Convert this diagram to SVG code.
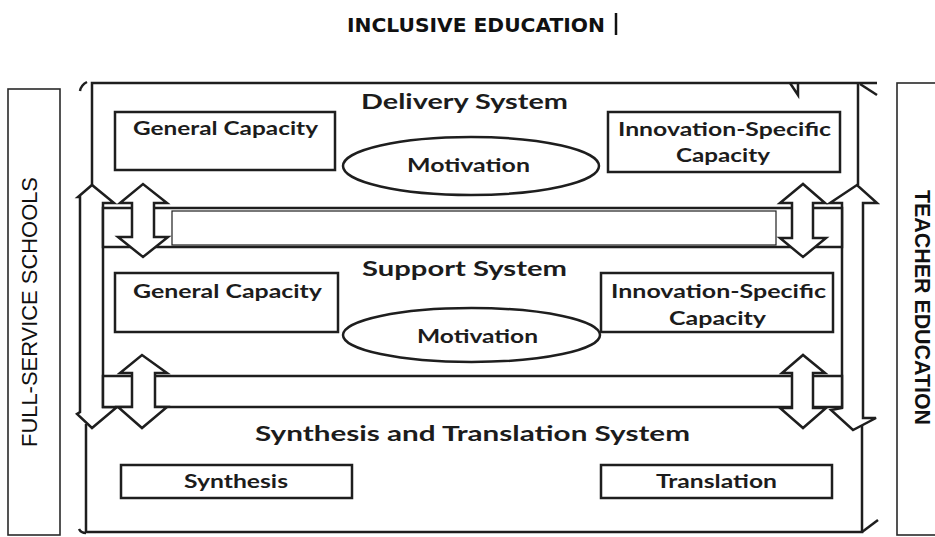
<svg xmlns="http://www.w3.org/2000/svg" width="935" height="537" viewBox="0 0 935 537">
<style>
.ln{fill:none;stroke:#1e1e1e;stroke-width:2.5;stroke-linejoin:miter}
.wf{fill:#fff;stroke:#1e1e1e;stroke-width:2.5;stroke-linejoin:miter}
.thin{fill:#fff;stroke:#1e1e1e;stroke-width:1.2}
.side{fill:#fff;stroke:#2a2a2a;stroke-width:1.6}
.t{font-family:Lato,"Open Sans",sans-serif;font-weight:bold;fill:#1c1c1c;text-anchor:middle}
.h{font-size:21px}
.b{font-size:18px}
.v{font-family:"Liberation Sans",Arial,sans-serif;font-size:22px;fill:#111;text-anchor:middle}
</style>
<rect width="935" height="537" fill="#fff"/>
<g id="title">
<text x="476" y="32" font-family="'DejaVu Sans',Verdana,sans-serif" font-weight="bold" font-size="20" fill="#111" textLength="258" lengthAdjust="spacingAndGlyphs" text-anchor="middle">INCLUSIVE EDUCATION</text>
<line x1="616" y1="13" x2="616" y2="35" stroke="#111" stroke-width="2.5"/>
</g>
<g id="full-service-schools">
<rect class="side" x="8" y="89" width="52" height="446"/>
<text class="v" transform="translate(37,312) rotate(-90)" textLength="270" lengthAdjust="spacingAndGlyphs">FULL-SERVICE SCHOOLS</text>
</g>
<g id="teacher-education">
<rect class="side" x="897" y="83" width="50" height="452"/>
<text class="v" font-weight="bold" transform="translate(915,307.5) rotate(90)" textLength="235" lengthAdjust="spacingAndGlyphs">TEACHER EDUCATION</text>
</g>
<g id="frame">
<path class="ln" d="M92,185 V83 H877"/>
<path class="ln" d="M858,83 V185"/>
<path class="ln" d="M860,84 L877,95"/>
<path class="ln" d="M790,83 L798,95 V83"/>
<path class="ln" d="M80,91 Q81,85 87,82"/>
<path class="ln" d="M86,424 V532 H862 V425"/>
<path class="ln" d="M862,532 L878,520"/>
<path class="ln" d="M79,529 Q81,533 86,533"/>
</g>
<g id="connectors">
<path id="big-left" class="wf" d="M103,407 L103,203 L114,203 L92,185 L78,197 L80,197 L80,412 L77,414 L92,428 L117,407 Z"/>
<path id="big-right" class="wf" d="M842,408 L842,203 L830,203 L857,185 L877,203 L863,203 L863,418 L876,418 L853,430 L831,410 Z"/>
<rect id="band1" class="wf" x="103" y="208" width="739" height="39"/>
<rect class="thin" x="172" y="211" width="604" height="34"/>
<rect id="band2" class="wf" x="103" y="376" width="739" height="31"/>
<path class="wf" d="M132,203 L120,203 L143,184 L167,203 L154,203 L154,237 L168,237 L143,257 L118,237 L132,237 Z"/>
<path class="wf" d="M792,203 L780,203 L803,184 L825,203 L813,203 L813,238 L826,238 L803,257 L780,238 L792,238 Z"/>
<path class="wf" d="M132,373 L120,373 L142,355 L167,373 L155,373 L155,407 L167,407 L142,428 L118,407 L132,407 Z"/>
<path class="wf" d="M792,373 L782,373 L803,355 L825,373 L813,373 L813,408 L826,408 L803,428 L780,408 L792,408 Z"/>
</g>
<g id="delivery-system">
<text class="t h" x="464.5" y="109" textLength="207" lengthAdjust="spacingAndGlyphs">Delivery System</text>
</g>
<g id="delivery-general-capacity">
<rect class="wf" x="115" y="112" width="220" height="58"/>
<text class="t b" x="225.5" y="135" textLength="185" lengthAdjust="spacingAndGlyphs">General Capacity</text>
</g>
<g id="delivery-innovation-capacity">
<rect class="wf" x="608" y="112" width="232" height="60"/>
<text class="t b" x="724.5" y="136" textLength="213" lengthAdjust="spacingAndGlyphs">Innovation-Specific</text>
<text class="t b" x="723" y="162" textLength="94" lengthAdjust="spacingAndGlyphs">Capacity</text>
</g>
<g id="delivery-motivation">
<ellipse class="wf" cx="471" cy="166" rx="128" ry="29"/>
<text class="t b" x="468.5" y="172" textLength="123" lengthAdjust="spacingAndGlyphs">Motivation</text>
</g>
<g id="support-system">
<text class="t h" x="464.5" y="276" textLength="205" lengthAdjust="spacingAndGlyphs">Support System</text>
</g>
<g id="support-general-capacity">
<rect class="wf" x="115" y="273" width="223" height="59"/>
<text class="t b" x="227.5" y="298" textLength="189" lengthAdjust="spacingAndGlyphs">General Capacity</text>
</g>
<g id="support-innovation-capacity">
<rect class="wf" x="601" y="273" width="232" height="59"/>
<text class="t b" x="718.5" y="298" textLength="215" lengthAdjust="spacingAndGlyphs">Innovation-Specific</text>
<text class="t b" x="717.5" y="325" textLength="97" lengthAdjust="spacingAndGlyphs">Capacity</text>
</g>
<g id="support-motivation">
<ellipse class="wf" cx="471.5" cy="335" rx="128.5" ry="27"/>
<text class="t b" x="477.5" y="343" textLength="121" lengthAdjust="spacingAndGlyphs">Motivation</text>
</g>
<g id="synthesis-translation-system">
<text class="t h" x="472.5" y="441" textLength="435" lengthAdjust="spacingAndGlyphs">Synthesis and Translation System</text>
</g>
<g id="synthesis">
<rect class="wf" x="121" y="465" width="231" height="33"/>
<text class="t b" x="236" y="488" textLength="104" lengthAdjust="spacingAndGlyphs">Synthesis</text>
</g>
<g id="translation">
<rect class="wf" x="601" y="465" width="231" height="33"/>
<text class="t b" x="716.5" y="488" textLength="121" lengthAdjust="spacingAndGlyphs">Translation</text>
</g>
</svg>
